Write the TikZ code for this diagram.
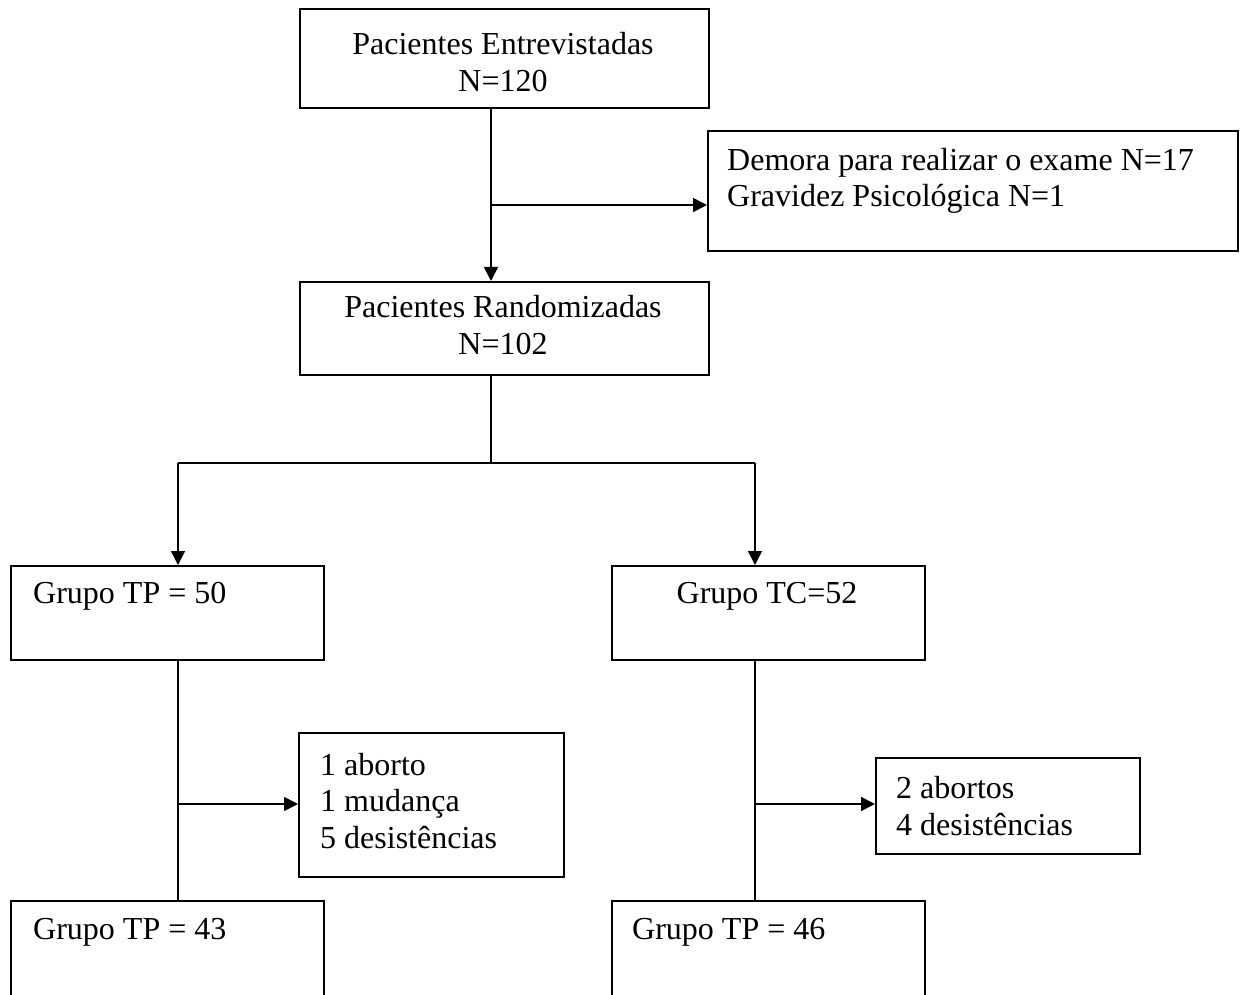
\documentclass[tikz,border=0pt]{standalone}
\usepackage{fontspec}
\setmainfont{Liberation Serif}
\usetikzlibrary{arrows.meta}
\begin{document}
\begin{tikzpicture}[x=1pt,y=-1pt,
  box/.style={draw,line width=1.6pt,rectangle,inner sep=0pt,anchor=north west},
  txt/.style={inner sep=0pt,font=\fontsize{32}{36.5}\selectfont},
  conn/.style={line width=1.6pt},
  arr/.style={line width=1.6pt,-{Triangle[length=14pt,width=14pt]}}]
\clip (0,0) rectangle (1243,995);
\useasboundingbox (0,0) rectangle (1243,995);
% boxes
\node[box,minimum width=409pt,minimum height=99pt] (top) at (299,8) {};
\node[box,minimum width=530pt,minimum height=120pt] (excl) at (707,130) {};
\node[box,minimum width=409pt,minimum height=93pt] (rand) at (299,281) {};
\node[box,minimum width=313pt,minimum height=94pt] (tp) at (10,565) {};
\node[box,minimum width=313pt,minimum height=94pt] (tc) at (611,565) {};
\node[box,minimum width=265pt,minimum height=144pt] (lossa) at (298,732) {};
\node[box,minimum width=264pt,minimum height=96pt] (lossb) at (875,757) {};
\node[box,minimum width=313pt,minimum height=120pt] (tpf) at (10,900) {};
\node[box,minimum width=313pt,minimum height=120pt] (tcf) at (611,900) {};
% texts
\node[txt,align=center] (ttop) at (503,62) {Pacientes Entrevistadas\\N=120};
\node[txt,align=left,anchor=west] (texcl) at (727,181) {Demora para realizar o exame N=17\\Gravidez Psicológica N=1};
\node[txt,align=center] (trand) at (503,325) {Pacientes Randomizadas\\N=102};
\node[txt,anchor=west] (ttp) at (33,596) {Grupo TP = 50};
\node[txt] (ttc) at (767,596) {Grupo TC=52};
\node[txt,align=left,anchor=west] (tlossa) at (320,801) {1 aborto\\1 mudança\\5 desistências};
\node[txt,align=left,anchor=west] (tlossb) at (896,806) {2 abortos\\4 desistências};
\node[txt,anchor=west] (ttpf) at (33,932) {Grupo TP = 43};
\node[txt,anchor=west] (ttcf) at (632,932) {Grupo TP = 46};
% junction coordinates
\coordinate (a1) at (491,107);
\coordinate (a2) at (491,205);
\coordinate (r1) at (491,374);
\coordinate (r2) at (491,463);
\coordinate (l1) at (178,463);
\coordinate (rr1) at (755,463);
\coordinate (p1) at (178,659);
\coordinate (p2) at (178,804);
\coordinate (c1) at (755,659);
\coordinate (c2) at (755,804);
% connectors
\draw[arr] (a1) -- (a1 |- rand.north);
\draw[arr] (a2) -- (a2 -| excl.west);
\draw[conn] (r1) -- (r2);
\draw[conn] (l1) -- (rr1);
\draw[arr] (l1) -- (l1 |- tp.north);
\draw[arr] (rr1) -- (rr1 |- tc.north);
\draw[conn] (p1) -- (p1 |- tpf.north);
\draw[arr] (p2) -- (p2 -| lossa.west);
\draw[conn] (c1) -- (c1 |- tcf.north);
\draw[arr] (c2) -- (c2 -| lossb.west);
\end{tikzpicture}
\end{document}
